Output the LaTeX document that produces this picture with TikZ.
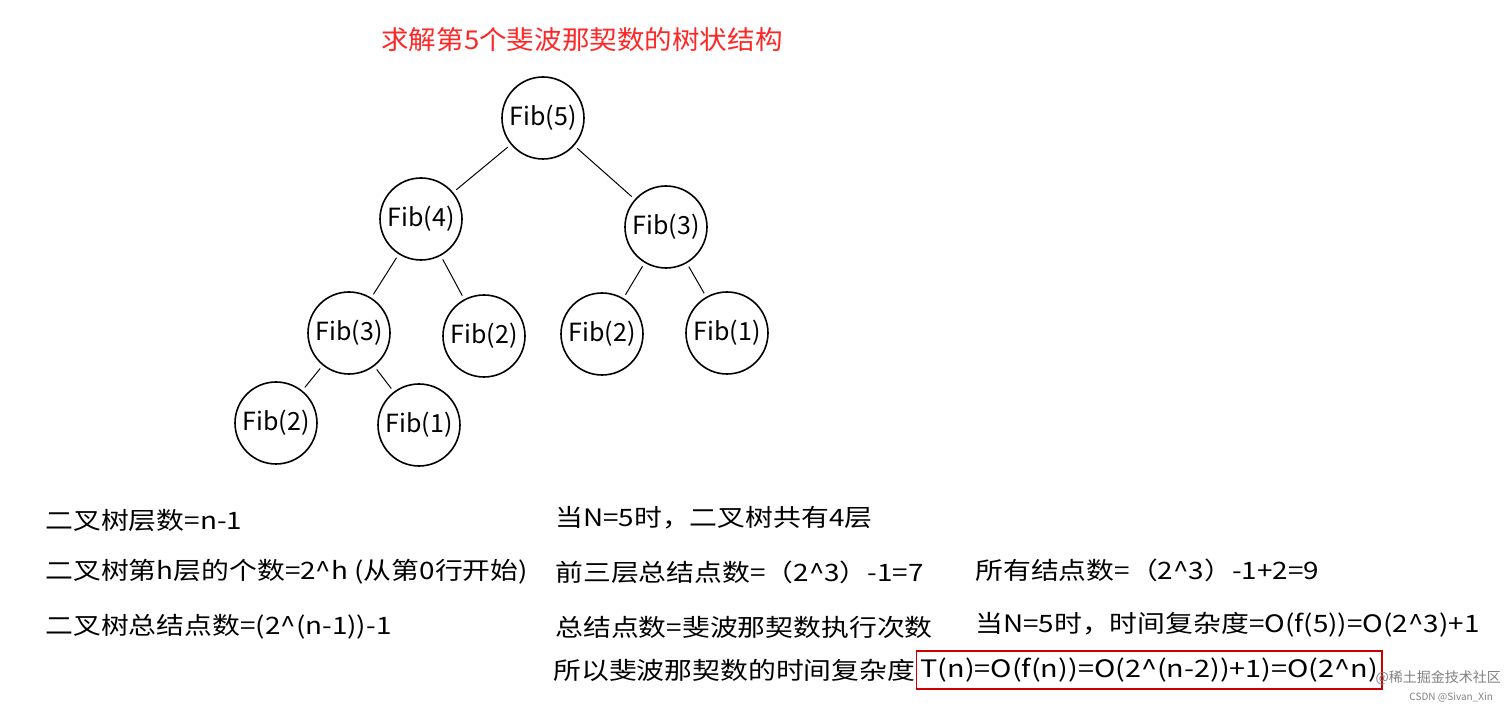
\documentclass[tikz,border=0pt]{standalone}
\usepackage{fontspec}
\usepackage{graphicx}
\setmainfont{Noto Sans CJK SC}
\newcommand{\wx}[1]{\scalebox{1.16}[1]{#1}}
\begin{document}
\begin{tikzpicture}[x=0.5pt,y=-0.5pt,
  fib/.style={circle,draw,line width=0.8pt,minimum size=41pt,inner sep=0pt,font=\fontsize{12.5}{13}\selectfont},
  txt/.style={anchor=west,inner sep=0pt,font=\fontsize{12}{13}\selectfont},
  edge/.style={line width=0.5pt,shorten <=2pt,shorten >=2pt}]
\useasboundingbox (0,0) rectangle (1512,710);
\node[font=\fontsize{13}{14}\selectfont,text=red!85!white] (title) at (582,40) {\scalebox{1.06}[1]{求解第5个斐波那契数的树状结构}};
\node[fib] (f5) at (543,118) {Fib(5)};
\node[fib] (f4) at (421,219) {Fib(4)};
\node[fib] (f3r) at (666,227) {Fib(3)};
\node[fib] (f3l) at (349,333) {Fib(3)};
\node[fib] (f2a) at (484,336) {Fib(2)};
\node[fib] (f2b) at (602,334) {Fib(2)};
\node[fib] (f1a) at (727,333) {Fib(1)};
\node[fib] (f2c) at (276,423) {Fib(2)};
\node[fib] (f1b) at (419,425) {Fib(1)};
\draw[edge] (f5) -- (f4);
\draw[edge] (f5) -- (f3r);
\draw[edge] (f4) -- (f3l);
\draw[edge] (f4) -- (f2a);
\draw[edge] (f3r) -- (f2b);
\draw[edge] (f3r) -- (f1a);
\draw[edge] (f3l) -- (f2c);
\draw[edge] (f3l) -- (f1b);
\node[txt] (a1) at (45,520) {\wx{二叉树层数=n-1}};
\node[txt] (a2) at (45,572) {\wx{二叉树第h层的个数=2\^{}h (从第0行开始)}};
\node[txt] (a3) at (45,627) {\wx{二叉树总结点数=(2\^{}(n-1))-1}};
\node[txt] (b1) at (555,518) {\wx{当N=5时，二叉树共有4层}};
\node[txt] (b2) at (555,572) {\wx{前三层总结点数=（2\^{}3）-1=7}};
\node[txt] (b3) at (555,627) {\wx{总结点数=斐波那契数执行次数}};
\node[txt] (c2) at (975,570) {\wx{所有结点数=（2\^{}3）-1+2=9}};
\node[txt] (c3) at (975,625) {\wx{当N=5时，时间复杂度=O(f(5))=O(2\^{}3)+1}};
\node[txt] (d1) at (553,670) {\wx{所以斐波那契数的时间复杂度}};
\node[txt,draw=red!80!black,line width=0.8pt,inner sep=2pt,minimum height=19pt,anchor=west] (d2) at (d1.east) {\scalebox{1.2}[1]{T(n)=O(f(n))=O(2\^{}(n-2))+1)=O(2\^{}n)}};
\node[anchor=east,text=gray,font=\fontsize{7}{8}\selectfont] (w1) at (1508,678) {@稀土掘金技术社区};
\node[anchor=east,text=gray,font=\fontsize{5}{6}\selectfont] (w2) at (1500,697) {CSDN @Sivan\_Xin};
\end{tikzpicture}
\end{document}
